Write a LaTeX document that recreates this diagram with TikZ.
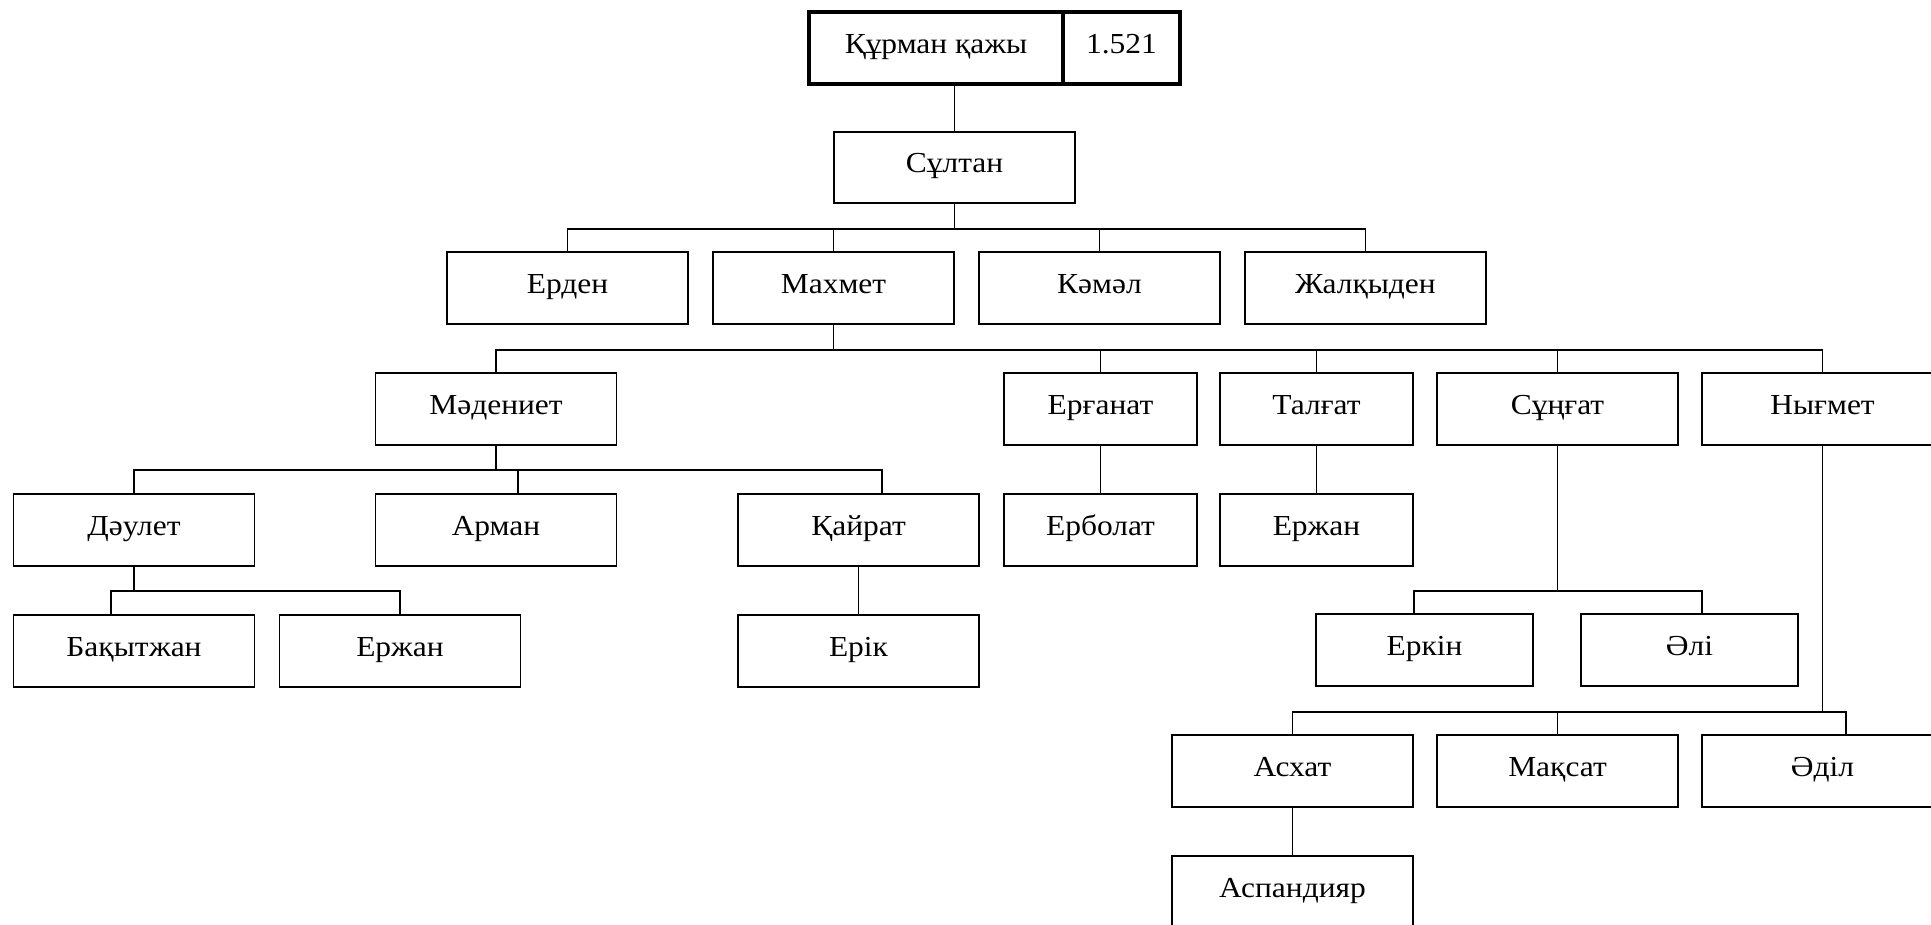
\documentclass[tikz,border=0pt]{standalone}
\usepackage{fontspec}
\setmainfont[FakeStretch=1.085]{Liberation Serif}
\usetikzlibrary{positioning}

\begin{document}
\begin{tikzpicture}[x=1pt, y=-1pt, font=\fontsize{29}{35}\selectfont,
    person/.style={draw, line width=1.8pt, outer sep=0pt, inner sep=0pt,
        minimum width=241pt, minimum height=71.5pt,
        text height=20pt, text depth=9pt},
    narrow/.style={person, minimum width=193pt},
    mid/.style={person, minimum width=217pt},
    root/.style={draw, line width=4pt, outer sep=0pt, inner sep=0pt,
        minimum height=72pt, text height=20pt, text depth=9pt},
    link/.style={line width=1.8pt}]
  \clip (0,0) rectangle (1931,925);
  % root
  \node[root, minimum width=254pt] (kurman) at (936,48) {Құрман қажы};
  \node[root, minimum width=117pt, right=0pt of kurman] (year) {1.521};
  \node[person] (sultan) at (954.5,167.5) {Сұлтан};
  % row 2
  \node[person] (erden) at (567.5,288) {Ерден};
  \node[person, right=25pt of erden] (makhmet) {Махмет};
  \node[person, right=25pt of makhmet] (kamal) {Кәмәл};
  \node[person, right=25pt of kamal] (zhalk) {Жалқыден};
  % row 3
  \node[person] (madeniet) at (496,409) {Мәдениет};
  \node[narrow] (erganat) at (1100.5,409) {Ерғанат};
  \node[narrow, right=23pt of erganat] (talgat) {Талғат};
  \node[person, right=24pt of talgat] (sungat) {Сұңғат};
  \node[person, right=24pt of sungat] (nygmet) {Нығмет};
  % row 4
  \node[person] (daulet) at (134,530) {Дәулет};
  \node[person] (arman) at (496,530) {Арман};
  \node[person] (kairat) at (858.5,530) {Қайрат};
  \node[narrow, below=49.5pt of erganat] (erbolat) {Ерболат};
  \node[narrow, below=49.5pt of talgat] (erzhanb) {Ержан};
  % row 5
  \node[person, below=49.5pt of daulet] (bakyt) {Бақытжан};
  \node[person, right=25pt of bakyt] (erzhana) {Ержан};
  \node[person, below=49.5pt of kairat] (erik) {Ерік};
  \node[mid] (erkin) at (1424.5,650) {Еркін};
  \node[mid, right=48pt of erkin] (ali) {Әлі};
  % row 6
  \node[person] (askhat) at (1292.5,771) {Асхат};
  \node[person, right=24pt of askhat] (maksat) {Мақсат};
  \node[person, right=24pt of maksat] (adil) {Әділ};
  % row 7
  \node[person, below=49.5pt of askhat] (aspan) {Аспандияр};

  % connectors
  \coordinate (b1) at (0,229);
  \coordinate (b2) at (0,350);
  \coordinate (b3) at (0,470);
  \coordinate (b4) at (0,591);
  \coordinate (b6) at (0,712);
  \draw[link] (sultan.north) -- (sultan.north |- kurman.south);
  \draw[link] (sultan.south) -- (sultan.south |- b1);
  \draw[link] (erden.north) |- (zhalk.north |- b1) -- (zhalk.north);
  \foreach \n in {makhmet,kamal} \draw[link] (\n.north) -- (\n.north |- b1);

  \draw[link] (makhmet.south) -- (makhmet.south |- b2);
  \draw[link] (madeniet.north) |- (nygmet.north |- b2) -- (nygmet.north);
  \foreach \n in {erganat,talgat,sungat} \draw[link] (\n.north) -- (\n.north |- b2);

  \draw[link] (madeniet.south) -- (madeniet.south |- b3);
  \draw[link] (daulet.north) |- ([xshift=23.5pt]kairat.north |- b3) -- ([xshift=23.5pt]kairat.north);
  \draw[link] ([xshift=22pt]arman.north) -- ([xshift=22pt]arman.north |- b3);

  \draw[link] (daulet.south) -- (daulet.south |- b4);
  \draw[link] ([xshift=-23pt]bakyt.north) |- (erzhana.north |- b4) -- (erzhana.north);

  \draw[link] (sungat.south) -- (sungat.south |- b4);
  \draw[link] ([xshift=-10.5pt]erkin.north) |- ([xshift=12.5pt]ali.north |- b4) -- ([xshift=12.5pt]ali.north);

  \draw[link] (nygmet.south) -- (nygmet.south |- b6);
  \draw[link] (askhat.north) |- ([xshift=23.5pt]adil.north |- b6) -- ([xshift=23.5pt]adil.north);
  \draw[link] (maksat.north) -- (maksat.north |- b6);

  \draw[link] (kairat.south) -- (erik.north);
  \draw[link] (erganat.south) -- (erbolat.north);
  \draw[link] (talgat.south) -- (erzhanb.north);
  \draw[link] (askhat.south) -- (aspan.north);
\end{tikzpicture}
\end{document}
